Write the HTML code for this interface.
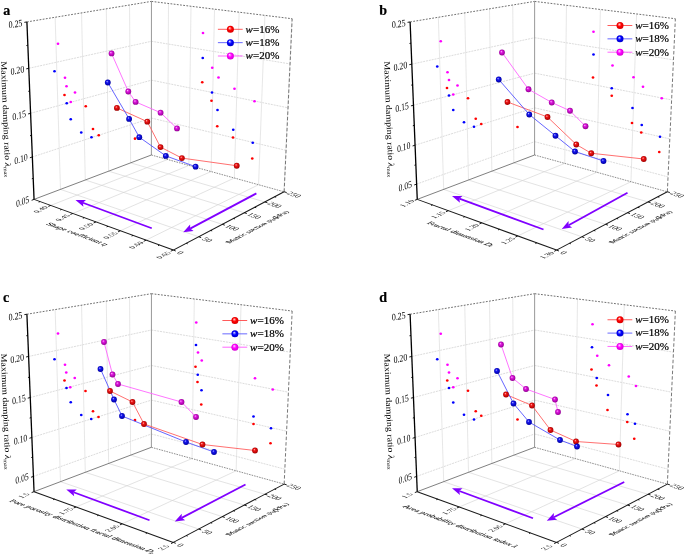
<!DOCTYPE html>
<html><head><meta charset="utf-8"><style>
html,body{margin:0;padding:0;background:#fff;}
svg{display:block;will-change:transform;filter:blur(0.35px);}
text{font-family:"Liberation Serif",serif;fill:#000;}
.b{stroke:#000;stroke-width:0.22px;}
.t{fill:#111;}
</style></head><body>
<svg width="685" height="556" viewBox="0 0 685 556">
<defs>
<radialGradient id="gr" cx="0.5" cy="0.5" fx="0.36" fy="0.32" r="0.6"><stop offset="0" stop-color="#ffc0c0"/><stop offset="0.3" stop-color="#f01818"/><stop offset="0.8" stop-color="#b00000"/><stop offset="1" stop-color="#700000"/></radialGradient>
<radialGradient id="gb" cx="0.5" cy="0.5" fx="0.36" fy="0.32" r="0.6"><stop offset="0" stop-color="#c0c0ff"/><stop offset="0.3" stop-color="#1818f0"/><stop offset="0.8" stop-color="#0000b0"/><stop offset="1" stop-color="#000070"/></radialGradient>
<radialGradient id="gm" cx="0.5" cy="0.5" fx="0.36" fy="0.32" r="0.6"><stop offset="0" stop-color="#ffc0ff"/><stop offset="0.3" stop-color="#e018e0"/><stop offset="0.8" stop-color="#a000a0"/><stop offset="1" stop-color="#680068"/></radialGradient>
<radialGradient id="lr" cx="0.5" cy="0.5" fx="0.38" fy="0.3" r="0.55"><stop offset="0" stop-color="#ffffff"/><stop offset="0.22" stop-color="#ff7070"/><stop offset="0.5" stop-color="#ff0000"/><stop offset="1" stop-color="#d00000"/></radialGradient>
<radialGradient id="lb" cx="0.5" cy="0.5" fx="0.38" fy="0.3" r="0.55"><stop offset="0" stop-color="#ffffff"/><stop offset="0.22" stop-color="#7070ff"/><stop offset="0.5" stop-color="#0000ff"/><stop offset="1" stop-color="#0000c0"/></radialGradient>
<radialGradient id="lm" cx="0.5" cy="0.5" fx="0.38" fy="0.3" r="0.55"><stop offset="0" stop-color="#ffffff"/><stop offset="0.22" stop-color="#ff70ff"/><stop offset="0.5" stop-color="#ff00ff"/><stop offset="1" stop-color="#d000d0"/></radialGradient>
</defs>
<rect width="685" height="556" fill="#fff"/>
<line x1="32.35" y1="156.97" x2="151.40" y2="118.06" stroke="#cdcdcd" stroke-width="0.7" stroke-dasharray="2 0.9"/>
<line x1="151.40" y1="118.06" x2="286.07" y2="150.40" stroke="#cdcdcd" stroke-width="0.7" stroke-dasharray="2 0.9"/>
<line x1="30.59" y1="113.30" x2="151.41" y2="80.17" stroke="#cdcdcd" stroke-width="0.7" stroke-dasharray="2 0.9"/>
<line x1="151.41" y1="80.17" x2="288.05" y2="107.79" stroke="#cdcdcd" stroke-width="0.7" stroke-dasharray="2 0.9"/>
<line x1="28.78" y1="68.30" x2="151.43" y2="41.29" stroke="#cdcdcd" stroke-width="0.7" stroke-dasharray="2 0.9"/>
<line x1="151.43" y1="41.29" x2="290.08" y2="63.92" stroke="#cdcdcd" stroke-width="0.7" stroke-dasharray="2 0.9"/>
<line x1="60.49" y1="189.38" x2="55.15" y2="17.27" stroke="#dcdcdc" stroke-width="0.7"/>
<line x1="60.49" y1="189.38" x2="198.71" y2="236.75" stroke="#d4d4d4" stroke-width="0.65"/>
<line x1="85.29" y1="180.00" x2="81.56" y2="12.91" stroke="#dcdcdc" stroke-width="0.7"/>
<line x1="85.29" y1="180.00" x2="222.32" y2="224.33" stroke="#d4d4d4" stroke-width="0.65"/>
<line x1="108.63" y1="171.18" x2="106.31" y2="8.83" stroke="#dcdcdc" stroke-width="0.7"/>
<line x1="108.63" y1="171.18" x2="244.33" y2="212.76" stroke="#d4d4d4" stroke-width="0.65"/>
<line x1="130.62" y1="162.86" x2="129.56" y2="5.00" stroke="#dcdcdc" stroke-width="0.7"/>
<line x1="130.62" y1="162.86" x2="264.89" y2="201.94" stroke="#d4d4d4" stroke-width="0.65"/>
<line x1="167.58" y1="159.50" x2="168.50" y2="3.50" stroke="#dcdcdc" stroke-width="0.7"/>
<line x1="50.73" y1="205.44" x2="167.58" y2="159.50" stroke="#d4d4d4" stroke-width="0.65"/>
<line x1="188.89" y1="165.41" x2="191.00" y2="6.27" stroke="#dcdcdc" stroke-width="0.7"/>
<line x1="72.79" y1="213.48" x2="188.89" y2="165.41" stroke="#d4d4d4" stroke-width="0.65"/>
<line x1="211.12" y1="171.57" x2="214.52" y2="9.17" stroke="#dcdcdc" stroke-width="0.7"/>
<line x1="95.97" y1="221.93" x2="211.12" y2="171.57" stroke="#d4d4d4" stroke-width="0.65"/>
<line x1="234.33" y1="178.00" x2="239.13" y2="12.20" stroke="#dcdcdc" stroke-width="0.7"/>
<line x1="120.34" y1="230.81" x2="234.33" y2="178.00" stroke="#d4d4d4" stroke-width="0.65"/>
<line x1="258.57" y1="184.72" x2="264.90" y2="15.37" stroke="#dcdcdc" stroke-width="0.7"/>
<line x1="146.01" y1="240.16" x2="258.57" y2="184.72" stroke="#d4d4d4" stroke-width="0.65"/>
<line x1="283.93" y1="191.74" x2="291.93" y2="18.71" stroke="#dcdcdc" stroke-width="0.7"/>
<line x1="173.08" y1="250.02" x2="283.93" y2="191.74" stroke="#d4d4d4" stroke-width="0.65"/>
<line x1="26.91" y1="21.92" x2="151.44" y2="1.39" stroke="#555555" stroke-width="0.85" stroke-dasharray="1.8 1.4"/>
<line x1="151.44" y1="1.39" x2="292.17" y2="18.74" stroke="#555555" stroke-width="0.85" stroke-dasharray="1.8 1.4"/>
<line x1="284.15" y1="191.81" x2="292.17" y2="18.74" stroke="#606060" stroke-width="0.85" stroke-dasharray="3.5 2"/>
<line x1="151.38" y1="155.01" x2="151.44" y2="1.39" stroke="#999999" stroke-width="1.0"/>
<line x1="34.06" y1="199.37" x2="151.38" y2="155.01" stroke="#606060" stroke-width="0.8"/>
<line x1="151.38" y1="155.01" x2="284.15" y2="191.81" stroke="#6a6a6a" stroke-width="0.75" stroke-dasharray="1.6 1"/>
<line x1="416.65" y1="184.09" x2="534.59" y2="141.68" stroke="#cdcdcd" stroke-width="0.7" stroke-dasharray="2 0.9"/>
<line x1="534.59" y1="141.68" x2="668.04" y2="176.88" stroke="#cdcdcd" stroke-width="0.7" stroke-dasharray="2 0.9"/>
<line x1="415.08" y1="145.18" x2="534.60" y2="107.82" stroke="#cdcdcd" stroke-width="0.7" stroke-dasharray="2 0.9"/>
<line x1="534.60" y1="107.82" x2="669.80" y2="138.90" stroke="#cdcdcd" stroke-width="0.7" stroke-dasharray="2 0.9"/>
<line x1="413.47" y1="105.22" x2="534.61" y2="73.17" stroke="#cdcdcd" stroke-width="0.7" stroke-dasharray="2 0.9"/>
<line x1="534.61" y1="73.17" x2="671.61" y2="99.91" stroke="#cdcdcd" stroke-width="0.7" stroke-dasharray="2 0.9"/>
<line x1="411.81" y1="64.14" x2="534.63" y2="37.71" stroke="#cdcdcd" stroke-width="0.7" stroke-dasharray="2 0.9"/>
<line x1="534.63" y1="37.71" x2="673.47" y2="59.87" stroke="#cdcdcd" stroke-width="0.7" stroke-dasharray="2 0.9"/>
<line x1="443.69" y1="189.38" x2="438.35" y2="17.27" stroke="#dcdcdc" stroke-width="0.7"/>
<line x1="443.69" y1="189.38" x2="581.91" y2="236.75" stroke="#d4d4d4" stroke-width="0.65"/>
<line x1="468.49" y1="180.00" x2="464.76" y2="12.91" stroke="#dcdcdc" stroke-width="0.7"/>
<line x1="468.49" y1="180.00" x2="605.52" y2="224.33" stroke="#d4d4d4" stroke-width="0.65"/>
<line x1="491.83" y1="171.18" x2="489.51" y2="8.83" stroke="#dcdcdc" stroke-width="0.7"/>
<line x1="491.83" y1="171.18" x2="627.53" y2="212.76" stroke="#d4d4d4" stroke-width="0.65"/>
<line x1="513.82" y1="162.86" x2="512.76" y2="5.00" stroke="#dcdcdc" stroke-width="0.7"/>
<line x1="513.82" y1="162.86" x2="648.09" y2="201.94" stroke="#d4d4d4" stroke-width="0.65"/>
<line x1="564.76" y1="163.38" x2="566.46" y2="5.31" stroke="#dcdcdc" stroke-width="0.7"/>
<line x1="448.39" y1="210.71" x2="564.76" y2="163.38" stroke="#d4d4d4" stroke-width="0.65"/>
<line x1="596.83" y1="172.26" x2="600.38" y2="9.49" stroke="#dcdcdc" stroke-width="0.7"/>
<line x1="481.79" y1="222.88" x2="596.83" y2="172.26" stroke="#d4d4d4" stroke-width="0.65"/>
<line x1="630.96" y1="181.72" x2="636.60" y2="13.96" stroke="#dcdcdc" stroke-width="0.7"/>
<line x1="517.74" y1="235.98" x2="630.96" y2="181.72" stroke="#d4d4d4" stroke-width="0.65"/>
<line x1="410.11" y1="21.92" x2="534.64" y2="1.39" stroke="#555555" stroke-width="0.85" stroke-dasharray="1.8 1.4"/>
<line x1="534.64" y1="1.39" x2="675.37" y2="18.74" stroke="#555555" stroke-width="0.85" stroke-dasharray="1.8 1.4"/>
<line x1="667.35" y1="191.81" x2="675.37" y2="18.74" stroke="#606060" stroke-width="0.85" stroke-dasharray="3.5 2"/>
<line x1="534.58" y1="155.01" x2="534.64" y2="1.39" stroke="#999999" stroke-width="1.0"/>
<line x1="417.26" y1="199.37" x2="534.58" y2="155.01" stroke="#606060" stroke-width="0.8"/>
<line x1="534.58" y1="155.01" x2="667.35" y2="191.81" stroke="#6a6a6a" stroke-width="0.75" stroke-dasharray="1.6 1"/>
<line x1="33.45" y1="476.39" x2="151.39" y2="433.98" stroke="#cdcdcd" stroke-width="0.7" stroke-dasharray="2 0.9"/>
<line x1="151.39" y1="433.98" x2="284.84" y2="469.18" stroke="#cdcdcd" stroke-width="0.7" stroke-dasharray="2 0.9"/>
<line x1="31.88" y1="437.48" x2="151.40" y2="400.12" stroke="#cdcdcd" stroke-width="0.7" stroke-dasharray="2 0.9"/>
<line x1="151.40" y1="400.12" x2="286.60" y2="431.20" stroke="#cdcdcd" stroke-width="0.7" stroke-dasharray="2 0.9"/>
<line x1="30.27" y1="397.52" x2="151.41" y2="365.47" stroke="#cdcdcd" stroke-width="0.7" stroke-dasharray="2 0.9"/>
<line x1="151.41" y1="365.47" x2="288.41" y2="392.21" stroke="#cdcdcd" stroke-width="0.7" stroke-dasharray="2 0.9"/>
<line x1="28.61" y1="356.44" x2="151.43" y2="330.01" stroke="#cdcdcd" stroke-width="0.7" stroke-dasharray="2 0.9"/>
<line x1="151.43" y1="330.01" x2="290.27" y2="352.17" stroke="#cdcdcd" stroke-width="0.7" stroke-dasharray="2 0.9"/>
<line x1="60.49" y1="481.68" x2="55.15" y2="309.57" stroke="#dcdcdc" stroke-width="0.7"/>
<line x1="60.49" y1="481.68" x2="198.71" y2="529.05" stroke="#d4d4d4" stroke-width="0.65"/>
<line x1="85.29" y1="472.30" x2="81.56" y2="305.21" stroke="#dcdcdc" stroke-width="0.7"/>
<line x1="85.29" y1="472.30" x2="222.32" y2="516.63" stroke="#d4d4d4" stroke-width="0.65"/>
<line x1="108.63" y1="463.48" x2="106.31" y2="301.13" stroke="#dcdcdc" stroke-width="0.7"/>
<line x1="108.63" y1="463.48" x2="244.33" y2="505.06" stroke="#d4d4d4" stroke-width="0.65"/>
<line x1="130.62" y1="455.16" x2="129.56" y2="297.30" stroke="#dcdcdc" stroke-width="0.7"/>
<line x1="130.62" y1="455.16" x2="264.89" y2="494.24" stroke="#d4d4d4" stroke-width="0.65"/>
<line x1="192.03" y1="458.58" x2="194.32" y2="298.98" stroke="#dcdcdc" stroke-width="0.7"/>
<line x1="76.06" y1="506.97" x2="192.03" y2="458.58" stroke="#d4d4d4" stroke-width="0.65"/>
<line x1="236.14" y1="470.80" x2="241.05" y2="304.74" stroke="#dcdcdc" stroke-width="0.7"/>
<line x1="122.26" y1="523.80" x2="236.14" y2="470.80" stroke="#d4d4d4" stroke-width="0.65"/>
<line x1="26.91" y1="314.22" x2="151.44" y2="293.69" stroke="#555555" stroke-width="0.85" stroke-dasharray="1.8 1.4"/>
<line x1="151.44" y1="293.69" x2="292.17" y2="311.04" stroke="#555555" stroke-width="0.85" stroke-dasharray="1.8 1.4"/>
<line x1="284.15" y1="484.11" x2="292.17" y2="311.04" stroke="#606060" stroke-width="0.85" stroke-dasharray="3.5 2"/>
<line x1="151.38" y1="447.31" x2="151.44" y2="293.69" stroke="#999999" stroke-width="1.0"/>
<line x1="34.06" y1="491.67" x2="151.38" y2="447.31" stroke="#606060" stroke-width="0.8"/>
<line x1="151.38" y1="447.31" x2="284.15" y2="484.11" stroke="#6a6a6a" stroke-width="0.75" stroke-dasharray="1.6 1"/>
<line x1="416.65" y1="476.39" x2="534.59" y2="433.98" stroke="#cdcdcd" stroke-width="0.7" stroke-dasharray="2 0.9"/>
<line x1="534.59" y1="433.98" x2="668.04" y2="469.18" stroke="#cdcdcd" stroke-width="0.7" stroke-dasharray="2 0.9"/>
<line x1="415.08" y1="437.48" x2="534.60" y2="400.12" stroke="#cdcdcd" stroke-width="0.7" stroke-dasharray="2 0.9"/>
<line x1="534.60" y1="400.12" x2="669.80" y2="431.20" stroke="#cdcdcd" stroke-width="0.7" stroke-dasharray="2 0.9"/>
<line x1="413.47" y1="397.52" x2="534.61" y2="365.47" stroke="#cdcdcd" stroke-width="0.7" stroke-dasharray="2 0.9"/>
<line x1="534.61" y1="365.47" x2="671.61" y2="392.21" stroke="#cdcdcd" stroke-width="0.7" stroke-dasharray="2 0.9"/>
<line x1="411.81" y1="356.44" x2="534.63" y2="330.01" stroke="#cdcdcd" stroke-width="0.7" stroke-dasharray="2 0.9"/>
<line x1="534.63" y1="330.01" x2="673.47" y2="352.17" stroke="#cdcdcd" stroke-width="0.7" stroke-dasharray="2 0.9"/>
<line x1="443.69" y1="481.68" x2="438.35" y2="309.57" stroke="#dcdcdc" stroke-width="0.7"/>
<line x1="443.69" y1="481.68" x2="581.91" y2="529.05" stroke="#d4d4d4" stroke-width="0.65"/>
<line x1="468.49" y1="472.30" x2="464.76" y2="305.21" stroke="#dcdcdc" stroke-width="0.7"/>
<line x1="468.49" y1="472.30" x2="605.52" y2="516.63" stroke="#d4d4d4" stroke-width="0.65"/>
<line x1="491.83" y1="463.48" x2="489.51" y2="301.13" stroke="#dcdcdc" stroke-width="0.7"/>
<line x1="491.83" y1="463.48" x2="627.53" y2="505.06" stroke="#d4d4d4" stroke-width="0.65"/>
<line x1="513.82" y1="455.16" x2="512.76" y2="297.30" stroke="#dcdcdc" stroke-width="0.7"/>
<line x1="513.82" y1="455.16" x2="648.09" y2="494.24" stroke="#d4d4d4" stroke-width="0.65"/>
<line x1="575.23" y1="458.58" x2="577.52" y2="298.98" stroke="#dcdcdc" stroke-width="0.7"/>
<line x1="459.26" y1="506.97" x2="575.23" y2="458.58" stroke="#d4d4d4" stroke-width="0.65"/>
<line x1="619.34" y1="470.80" x2="624.25" y2="304.74" stroke="#dcdcdc" stroke-width="0.7"/>
<line x1="505.46" y1="523.80" x2="619.34" y2="470.80" stroke="#d4d4d4" stroke-width="0.65"/>
<line x1="410.11" y1="314.22" x2="534.64" y2="293.69" stroke="#555555" stroke-width="0.85" stroke-dasharray="1.8 1.4"/>
<line x1="534.64" y1="293.69" x2="675.37" y2="311.04" stroke="#555555" stroke-width="0.85" stroke-dasharray="1.8 1.4"/>
<line x1="667.35" y1="484.11" x2="675.37" y2="311.04" stroke="#606060" stroke-width="0.85" stroke-dasharray="3.5 2"/>
<line x1="534.58" y1="447.31" x2="534.64" y2="293.69" stroke="#999999" stroke-width="1.0"/>
<line x1="417.26" y1="491.67" x2="534.58" y2="447.31" stroke="#606060" stroke-width="0.8"/>
<line x1="534.58" y1="447.31" x2="667.35" y2="484.11" stroke="#6a6a6a" stroke-width="0.75" stroke-dasharray="1.6 1"/>
<circle cx="58" cy="43.75" r="1.35" fill="#ff00ff"/>
<circle cx="65" cy="77.75" r="1.35" fill="#ff00ff"/>
<circle cx="66.5" cy="86.25" r="1.35" fill="#ff00ff"/>
<circle cx="75" cy="92.5" r="1.35" fill="#ff00ff"/>
<circle cx="70.75" cy="102" r="1.35" fill="#ff00ff"/>
<circle cx="203" cy="33" r="1.35" fill="#ff00ff"/>
<circle cx="212.25" cy="67.75" r="1.35" fill="#ff00ff"/>
<circle cx="218.5" cy="77.5" r="1.35" fill="#ff00ff"/>
<circle cx="234.5" cy="88.75" r="1.35" fill="#ff00ff"/>
<circle cx="254.5" cy="101.25" r="1.35" fill="#ff00ff"/>
<circle cx="54.5" cy="71.25" r="1.35" fill="#0000ff"/>
<circle cx="66.75" cy="103.25" r="1.35" fill="#0000ff"/>
<circle cx="70.75" cy="119.25" r="1.35" fill="#0000ff"/>
<circle cx="81.25" cy="132.5" r="1.35" fill="#0000ff"/>
<circle cx="91.5" cy="137.25" r="1.35" fill="#0000ff"/>
<circle cx="202.75" cy="58" r="1.35" fill="#0000ff"/>
<circle cx="212" cy="92.5" r="1.35" fill="#0000ff"/>
<circle cx="217.5" cy="110" r="1.35" fill="#0000ff"/>
<circle cx="233.25" cy="129.75" r="1.35" fill="#0000ff"/>
<circle cx="252.75" cy="142.75" r="1.35" fill="#0000ff"/>
<circle cx="64.5" cy="95" r="1.35" fill="#ff0000"/>
<circle cx="85.75" cy="106.25" r="1.35" fill="#ff0000"/>
<circle cx="93" cy="129" r="1.35" fill="#ff0000"/>
<circle cx="98.75" cy="135.25" r="1.35" fill="#ff0000"/>
<circle cx="135" cy="138.7" r="1.35" fill="#ff0000"/>
<circle cx="202.25" cy="82.25" r="1.35" fill="#ff0000"/>
<circle cx="211.5" cy="100.75" r="1.35" fill="#ff0000"/>
<circle cx="217.25" cy="126.25" r="1.35" fill="#ff0000"/>
<circle cx="233" cy="137.5" r="1.35" fill="#ff0000"/>
<circle cx="252.25" cy="158.5" r="1.35" fill="#ff0000"/>
<circle cx="440.75" cy="41.25" r="1.35" fill="#ff00ff"/>
<circle cx="447.5" cy="72.25" r="1.35" fill="#ff00ff"/>
<circle cx="449" cy="80" r="1.35" fill="#ff00ff"/>
<circle cx="457.5" cy="85.5" r="1.35" fill="#ff00ff"/>
<circle cx="453.25" cy="94.5" r="1.35" fill="#ff00ff"/>
<circle cx="593.5" cy="31.75" r="1.35" fill="#ff00ff"/>
<circle cx="612.5" cy="65.5" r="1.35" fill="#ff00ff"/>
<circle cx="633.5" cy="77.25" r="1.35" fill="#ff00ff"/>
<circle cx="643" cy="86.75" r="1.35" fill="#ff00ff"/>
<circle cx="661.75" cy="98.25" r="1.35" fill="#ff00ff"/>
<circle cx="437.25" cy="66.5" r="1.35" fill="#0000ff"/>
<circle cx="449" cy="95.5" r="1.35" fill="#0000ff"/>
<circle cx="453.25" cy="110" r="1.35" fill="#0000ff"/>
<circle cx="464" cy="122.25" r="1.35" fill="#0000ff"/>
<circle cx="474" cy="126.75" r="1.35" fill="#0000ff"/>
<circle cx="593.5" cy="54.5" r="1.35" fill="#0000ff"/>
<circle cx="611.75" cy="88.25" r="1.35" fill="#0000ff"/>
<circle cx="632.5" cy="108" r="1.35" fill="#0000ff"/>
<circle cx="641.75" cy="125" r="1.35" fill="#0000ff"/>
<circle cx="660" cy="136.75" r="1.35" fill="#0000ff"/>
<circle cx="447" cy="88" r="1.35" fill="#ff0000"/>
<circle cx="468" cy="98.25" r="1.35" fill="#ff0000"/>
<circle cx="475.75" cy="118.75" r="1.35" fill="#ff0000"/>
<circle cx="481.25" cy="124" r="1.35" fill="#ff0000"/>
<circle cx="517.5" cy="127" r="1.35" fill="#ff0000"/>
<circle cx="593" cy="77.5" r="1.35" fill="#ff0000"/>
<circle cx="611.75" cy="95.75" r="1.35" fill="#ff0000"/>
<circle cx="632" cy="123" r="1.35" fill="#ff0000"/>
<circle cx="641.25" cy="132.5" r="1.35" fill="#ff0000"/>
<circle cx="659.25" cy="152" r="1.35" fill="#ff0000"/>
<circle cx="58" cy="333.5" r="1.35" fill="#ff00ff"/>
<circle cx="65" cy="364.75" r="1.35" fill="#ff00ff"/>
<circle cx="66.25" cy="372.5" r="1.35" fill="#ff00ff"/>
<circle cx="74.75" cy="378" r="1.35" fill="#ff00ff"/>
<circle cx="70.25" cy="387.25" r="1.35" fill="#ff00ff"/>
<circle cx="196.25" cy="322.5" r="1.35" fill="#ff00ff"/>
<circle cx="198" cy="352.5" r="1.35" fill="#ff00ff"/>
<circle cx="201.75" cy="360.5" r="1.35" fill="#ff00ff"/>
<circle cx="255" cy="378.25" r="1.35" fill="#ff00ff"/>
<circle cx="272.75" cy="389.5" r="1.35" fill="#ff00ff"/>
<circle cx="54.5" cy="359.25" r="1.35" fill="#0000ff"/>
<circle cx="66.5" cy="388" r="1.35" fill="#0000ff"/>
<circle cx="70.75" cy="402.25" r="1.35" fill="#0000ff"/>
<circle cx="81.25" cy="415" r="1.35" fill="#0000ff"/>
<circle cx="91.25" cy="419" r="1.35" fill="#0000ff"/>
<circle cx="196" cy="345" r="1.35" fill="#0000ff"/>
<circle cx="197.75" cy="374.75" r="1.35" fill="#0000ff"/>
<circle cx="201.5" cy="390.25" r="1.35" fill="#0000ff"/>
<circle cx="253.5" cy="416.5" r="1.35" fill="#0000ff"/>
<circle cx="271" cy="428.25" r="1.35" fill="#0000ff"/>
<circle cx="64.5" cy="380.5" r="1.35" fill="#ff0000"/>
<circle cx="85.5" cy="391" r="1.35" fill="#ff0000"/>
<circle cx="93" cy="411.25" r="1.35" fill="#ff0000"/>
<circle cx="98.5" cy="417" r="1.35" fill="#ff0000"/>
<circle cx="135" cy="420" r="1.35" fill="#ff0000"/>
<circle cx="195.5" cy="366.75" r="1.35" fill="#ff0000"/>
<circle cx="197.5" cy="382" r="1.35" fill="#ff0000"/>
<circle cx="201.25" cy="404.5" r="1.35" fill="#ff0000"/>
<circle cx="253.5" cy="424" r="1.35" fill="#ff0000"/>
<circle cx="270.5" cy="443.25" r="1.35" fill="#ff0000"/>
<circle cx="440.75" cy="333.75" r="1.35" fill="#ff00ff"/>
<circle cx="447.5" cy="364.75" r="1.35" fill="#ff00ff"/>
<circle cx="449" cy="372.5" r="1.35" fill="#ff00ff"/>
<circle cx="457.5" cy="378.25" r="1.35" fill="#ff00ff"/>
<circle cx="453.25" cy="387.25" r="1.35" fill="#ff00ff"/>
<circle cx="592.5" cy="324.25" r="1.35" fill="#ff00ff"/>
<circle cx="597.25" cy="355.75" r="1.35" fill="#ff00ff"/>
<circle cx="609" cy="365.25" r="1.35" fill="#ff00ff"/>
<circle cx="628.75" cy="376.5" r="1.35" fill="#ff00ff"/>
<circle cx="636" cy="386" r="1.35" fill="#ff00ff"/>
<circle cx="437.25" cy="359.25" r="1.35" fill="#0000ff"/>
<circle cx="449" cy="388" r="1.35" fill="#0000ff"/>
<circle cx="453.25" cy="402.5" r="1.35" fill="#0000ff"/>
<circle cx="464" cy="414.75" r="1.35" fill="#0000ff"/>
<circle cx="474" cy="419.5" r="1.35" fill="#0000ff"/>
<circle cx="592" cy="347.25" r="1.35" fill="#0000ff"/>
<circle cx="596.75" cy="378" r="1.35" fill="#0000ff"/>
<circle cx="608" cy="395" r="1.35" fill="#0000ff"/>
<circle cx="627.5" cy="414.25" r="1.35" fill="#0000ff"/>
<circle cx="635" cy="423.75" r="1.35" fill="#0000ff"/>
<circle cx="447.25" cy="380.5" r="1.35" fill="#ff0000"/>
<circle cx="468" cy="390.75" r="1.35" fill="#ff0000"/>
<circle cx="475.75" cy="411.25" r="1.35" fill="#ff0000"/>
<circle cx="481.25" cy="415.75" r="1.35" fill="#ff0000"/>
<circle cx="517.5" cy="419.5" r="1.35" fill="#ff0000"/>
<circle cx="591.5" cy="369.5" r="1.35" fill="#ff0000"/>
<circle cx="596.5" cy="385.5" r="1.35" fill="#ff0000"/>
<circle cx="607.5" cy="410" r="1.35" fill="#ff0000"/>
<circle cx="627.25" cy="422" r="1.35" fill="#ff0000"/>
<circle cx="634.25" cy="438.75" r="1.35" fill="#ff0000"/>
<line x1="34.06" y1="199.37" x2="26.91" y2="21.92" stroke="#000" stroke-width="1.3"/>
<line x1="34.06" y1="199.37" x2="173.32" y2="250.11" stroke="#1a1a1a" stroke-width="1.05"/>
<line x1="173.32" y1="250.11" x2="284.15" y2="191.81" stroke="#1a1a1a" stroke-width="1.05"/>
<line x1="34.06" y1="199.37" x2="31.63" y2="200.29" stroke="#000" stroke-width="0.9"/>
<line x1="32.35" y1="156.97" x2="29.88" y2="157.77" stroke="#000" stroke-width="0.9"/>
<line x1="30.59" y1="113.30" x2="28.09" y2="113.98" stroke="#000" stroke-width="0.9"/>
<line x1="28.78" y1="68.30" x2="26.24" y2="68.86" stroke="#000" stroke-width="0.9"/>
<line x1="26.91" y1="21.92" x2="24.35" y2="22.35" stroke="#000" stroke-width="0.9"/>
<line x1="33.21" y1="178.32" x2="31.80" y2="178.82" stroke="#000" stroke-width="0.9"/>
<line x1="31.48" y1="135.29" x2="30.04" y2="135.72" stroke="#000" stroke-width="0.9"/>
<line x1="29.69" y1="90.97" x2="28.24" y2="91.33" stroke="#000" stroke-width="0.9"/>
<line x1="27.85" y1="45.29" x2="26.38" y2="45.57" stroke="#000" stroke-width="0.9"/>
<text transform="matrix(0.7483 -0.2829 0.0403 0.9992 22.66 201.27)" font-size="10" text-anchor="middle" y="3.40">0.05</text>
<text transform="matrix(0.7604 -0.2485 0.0403 0.9992 20.95 158.87)" font-size="10" text-anchor="middle" y="3.40">0.10</text>
<text transform="matrix(0.7715 -0.2116 0.0403 0.9992 19.19 115.20)" font-size="10" text-anchor="middle" y="3.40">0.15</text>
<text transform="matrix(0.7813 -0.1721 0.0403 0.9992 17.38 70.20)" font-size="10" text-anchor="middle" y="3.40">0.20</text>
<text transform="matrix(0.7893 -0.1301 0.0403 0.9992 15.51 23.82)" font-size="10" text-anchor="middle" y="3.40">0.25</text>
<line x1="50.73" y1="205.44" x2="48.31" y2="206.39" stroke="#000" stroke-width="0.9"/>
<line x1="72.79" y1="213.48" x2="70.39" y2="214.48" stroke="#000" stroke-width="0.9"/>
<line x1="95.97" y1="221.93" x2="93.59" y2="222.97" stroke="#000" stroke-width="0.9"/>
<line x1="120.34" y1="230.81" x2="117.99" y2="231.90" stroke="#000" stroke-width="0.9"/>
<line x1="146.01" y1="240.16" x2="143.68" y2="241.31" stroke="#000" stroke-width="0.9"/>
<line x1="173.08" y1="250.02" x2="170.78" y2="251.23" stroke="#000" stroke-width="0.9"/>
<line x1="40.09" y1="201.56" x2="38.68" y2="202.10" stroke="#000" stroke-width="0.9"/>
<line x1="61.62" y1="209.41" x2="60.23" y2="209.97" stroke="#000" stroke-width="0.9"/>
<line x1="84.24" y1="217.65" x2="82.86" y2="218.24" stroke="#000" stroke-width="0.9"/>
<line x1="108.00" y1="226.31" x2="106.63" y2="226.92" stroke="#000" stroke-width="0.9"/>
<line x1="133.01" y1="235.42" x2="131.66" y2="236.07" stroke="#000" stroke-width="0.9"/>
<line x1="159.37" y1="245.02" x2="158.03" y2="245.70" stroke="#000" stroke-width="0.9"/>
<text transform="matrix(0.8850 -0.4656 0.9396 0.3423 40.49 209.47)" font-size="7.4" text-anchor="middle" y="2.52" class="t">0.40</text>
<text transform="matrix(0.8850 -0.4656 0.9396 0.3423 62.63 217.69)" font-size="7.4" text-anchor="middle" y="2.52" class="t">0.45</text>
<text transform="matrix(0.8850 -0.4656 0.9396 0.3423 85.89 226.33)" font-size="7.4" text-anchor="middle" y="2.52" class="t">0.50</text>
<text transform="matrix(0.8850 -0.4656 0.9396 0.3423 110.36 235.43)" font-size="7.4" text-anchor="middle" y="2.52" class="t">0.55</text>
<text transform="matrix(0.8850 -0.4656 0.9396 0.3423 136.15 245.02)" font-size="7.4" text-anchor="middle" y="2.52" class="t">0.60</text>
<text transform="matrix(0.8850 -0.4656 0.9396 0.3423 163.35 255.14)" font-size="7.4" text-anchor="middle" y="2.52" class="t">0.65</text>
<line x1="173.32" y1="250.11" x2="175.77" y2="251.00" stroke="#000" stroke-width="0.9"/>
<line x1="198.71" y1="236.75" x2="201.17" y2="237.60" stroke="#000" stroke-width="0.9"/>
<line x1="222.32" y1="224.33" x2="224.79" y2="225.13" stroke="#000" stroke-width="0.9"/>
<line x1="244.33" y1="212.76" x2="246.81" y2="213.52" stroke="#000" stroke-width="0.9"/>
<line x1="264.89" y1="201.94" x2="267.39" y2="202.66" stroke="#000" stroke-width="0.9"/>
<line x1="284.15" y1="191.81" x2="286.66" y2="192.50" stroke="#000" stroke-width="0.9"/>
<line x1="186.25" y1="243.31" x2="187.67" y2="243.81" stroke="#000" stroke-width="0.9"/>
<line x1="210.73" y1="230.43" x2="212.15" y2="230.91" stroke="#000" stroke-width="0.9"/>
<line x1="233.51" y1="218.45" x2="234.94" y2="218.90" stroke="#000" stroke-width="0.9"/>
<line x1="254.78" y1="207.26" x2="256.22" y2="207.69" stroke="#000" stroke-width="0.9"/>
<line x1="274.68" y1="196.79" x2="276.12" y2="197.20" stroke="#000" stroke-width="0.9"/>
<text transform="matrix(0.9396 0.3423 -0.8850 0.4656 180.65 252.78)" font-size="8" text-anchor="middle" y="2.72" class="t">0</text>
<text transform="matrix(0.9396 0.3423 -0.8850 0.4656 207.32 239.70)" font-size="8" text-anchor="middle" y="2.72" class="t">50</text>
<text transform="matrix(0.9396 0.3423 -0.8850 0.4656 232.21 227.54)" font-size="8" text-anchor="middle" y="2.72" class="t">100</text>
<text transform="matrix(0.9396 0.3423 -0.8850 0.4656 254.27 215.80)" font-size="8" text-anchor="middle" y="2.72" class="t">150</text>
<text transform="matrix(0.9396 0.3423 -0.8850 0.4656 274.88 204.84)" font-size="8" text-anchor="middle" y="2.72" class="t">200</text>
<text transform="matrix(0.9396 0.3423 -0.8850 0.4656 294.17 194.58)" font-size="8" text-anchor="middle" y="2.72" class="t">250</text>
<line x1="417.26" y1="199.37" x2="410.11" y2="21.92" stroke="#000" stroke-width="1.3"/>
<line x1="417.26" y1="199.37" x2="556.52" y2="250.11" stroke="#1a1a1a" stroke-width="1.05"/>
<line x1="556.52" y1="250.11" x2="667.35" y2="191.81" stroke="#1a1a1a" stroke-width="1.05"/>
<line x1="416.65" y1="184.09" x2="414.20" y2="184.97" stroke="#000" stroke-width="0.9"/>
<line x1="415.08" y1="145.18" x2="412.60" y2="145.96" stroke="#000" stroke-width="0.9"/>
<line x1="413.47" y1="105.22" x2="410.95" y2="105.88" stroke="#000" stroke-width="0.9"/>
<line x1="411.81" y1="64.14" x2="409.27" y2="64.69" stroke="#000" stroke-width="0.9"/>
<line x1="410.11" y1="21.92" x2="407.55" y2="22.35" stroke="#000" stroke-width="0.9"/>
<line x1="415.87" y1="164.77" x2="414.45" y2="165.25" stroke="#000" stroke-width="0.9"/>
<line x1="414.28" y1="125.33" x2="412.84" y2="125.75" stroke="#000" stroke-width="0.9"/>
<line x1="412.65" y1="84.82" x2="411.19" y2="85.17" stroke="#000" stroke-width="0.9"/>
<line x1="410.97" y1="43.18" x2="409.49" y2="43.46" stroke="#000" stroke-width="0.9"/>
<text transform="matrix(0.7528 -0.2707 0.0403 0.9992 405.25 185.99)" font-size="10" text-anchor="middle" y="3.40">0.05</text>
<text transform="matrix(0.7636 -0.2387 0.0403 0.9992 403.68 147.08)" font-size="10" text-anchor="middle" y="3.40">0.10</text>
<text transform="matrix(0.7734 -0.2046 0.0403 0.9992 402.07 107.12)" font-size="10" text-anchor="middle" y="3.40">0.15</text>
<text transform="matrix(0.7821 -0.1684 0.0403 0.9992 400.41 66.04)" font-size="10" text-anchor="middle" y="3.40">0.20</text>
<text transform="matrix(0.7893 -0.1301 0.0403 0.9992 398.71 23.82)" font-size="10" text-anchor="middle" y="3.40">0.25</text>
<line x1="417.26" y1="199.37" x2="414.83" y2="200.29" stroke="#000" stroke-width="0.9"/>
<line x1="448.39" y1="210.71" x2="445.98" y2="211.69" stroke="#000" stroke-width="0.9"/>
<line x1="481.79" y1="222.88" x2="479.41" y2="223.93" stroke="#000" stroke-width="0.9"/>
<line x1="517.74" y1="235.98" x2="515.39" y2="237.10" stroke="#000" stroke-width="0.9"/>
<line x1="556.52" y1="250.11" x2="554.22" y2="251.32" stroke="#000" stroke-width="0.9"/>
<line x1="432.55" y1="204.94" x2="431.16" y2="205.49" stroke="#000" stroke-width="0.9"/>
<line x1="464.79" y1="216.69" x2="463.41" y2="217.27" stroke="#000" stroke-width="0.9"/>
<line x1="499.43" y1="229.31" x2="498.07" y2="229.93" stroke="#000" stroke-width="0.9"/>
<line x1="536.76" y1="242.91" x2="535.42" y2="243.58" stroke="#000" stroke-width="0.9"/>
<text transform="matrix(0.8850 -0.4656 0.9396 0.3423 406.97 203.26)" font-size="7.4" text-anchor="middle" y="2.52" class="t">1.10</text>
<text transform="matrix(0.8850 -0.4656 0.9396 0.3423 438.20 214.85)" font-size="7.4" text-anchor="middle" y="2.52" class="t">1.15</text>
<text transform="matrix(0.8850 -0.4656 0.9396 0.3423 471.73 227.31)" font-size="7.4" text-anchor="middle" y="2.52" class="t">1.20</text>
<text transform="matrix(0.8850 -0.4656 0.9396 0.3423 507.82 240.73)" font-size="7.4" text-anchor="middle" y="2.52" class="t">1.25</text>
<text transform="matrix(0.8850 -0.4656 0.9396 0.3423 546.79 255.23)" font-size="7.4" text-anchor="middle" y="2.52" class="t">1.30</text>
<line x1="556.52" y1="250.11" x2="558.97" y2="251.00" stroke="#000" stroke-width="0.9"/>
<line x1="581.91" y1="236.75" x2="584.37" y2="237.60" stroke="#000" stroke-width="0.9"/>
<line x1="605.52" y1="224.33" x2="607.99" y2="225.13" stroke="#000" stroke-width="0.9"/>
<line x1="627.53" y1="212.76" x2="630.01" y2="213.52" stroke="#000" stroke-width="0.9"/>
<line x1="648.09" y1="201.94" x2="650.59" y2="202.66" stroke="#000" stroke-width="0.9"/>
<line x1="667.35" y1="191.81" x2="669.86" y2="192.50" stroke="#000" stroke-width="0.9"/>
<line x1="569.45" y1="243.31" x2="570.87" y2="243.81" stroke="#000" stroke-width="0.9"/>
<line x1="593.93" y1="230.43" x2="595.35" y2="230.91" stroke="#000" stroke-width="0.9"/>
<line x1="616.71" y1="218.45" x2="618.14" y2="218.90" stroke="#000" stroke-width="0.9"/>
<line x1="637.98" y1="207.26" x2="639.42" y2="207.69" stroke="#000" stroke-width="0.9"/>
<line x1="657.88" y1="196.79" x2="659.32" y2="197.20" stroke="#000" stroke-width="0.9"/>
<text transform="matrix(0.9396 0.3423 -0.8850 0.4656 563.85 252.78)" font-size="8" text-anchor="middle" y="2.72" class="t">0</text>
<text transform="matrix(0.9396 0.3423 -0.8850 0.4656 590.52 239.70)" font-size="8" text-anchor="middle" y="2.72" class="t">50</text>
<text transform="matrix(0.9396 0.3423 -0.8850 0.4656 615.41 227.54)" font-size="8" text-anchor="middle" y="2.72" class="t">100</text>
<text transform="matrix(0.9396 0.3423 -0.8850 0.4656 637.47 215.80)" font-size="8" text-anchor="middle" y="2.72" class="t">150</text>
<text transform="matrix(0.9396 0.3423 -0.8850 0.4656 658.08 204.84)" font-size="8" text-anchor="middle" y="2.72" class="t">200</text>
<text transform="matrix(0.9396 0.3423 -0.8850 0.4656 677.37 194.58)" font-size="8" text-anchor="middle" y="2.72" class="t">250</text>
<line x1="34.06" y1="491.67" x2="26.91" y2="314.22" stroke="#000" stroke-width="1.3"/>
<line x1="34.06" y1="491.67" x2="173.32" y2="542.41" stroke="#1a1a1a" stroke-width="1.05"/>
<line x1="173.32" y1="542.41" x2="284.15" y2="484.11" stroke="#1a1a1a" stroke-width="1.05"/>
<line x1="33.45" y1="476.39" x2="31.00" y2="477.27" stroke="#000" stroke-width="0.9"/>
<line x1="31.88" y1="437.48" x2="29.40" y2="438.26" stroke="#000" stroke-width="0.9"/>
<line x1="30.27" y1="397.52" x2="27.75" y2="398.18" stroke="#000" stroke-width="0.9"/>
<line x1="28.61" y1="356.44" x2="26.07" y2="356.99" stroke="#000" stroke-width="0.9"/>
<line x1="26.91" y1="314.22" x2="24.35" y2="314.65" stroke="#000" stroke-width="0.9"/>
<line x1="32.67" y1="457.07" x2="31.25" y2="457.55" stroke="#000" stroke-width="0.9"/>
<line x1="31.08" y1="417.63" x2="29.64" y2="418.05" stroke="#000" stroke-width="0.9"/>
<line x1="29.45" y1="377.12" x2="27.99" y2="377.47" stroke="#000" stroke-width="0.9"/>
<line x1="27.77" y1="335.48" x2="26.29" y2="335.76" stroke="#000" stroke-width="0.9"/>
<text transform="matrix(0.7528 -0.2707 0.0403 0.9992 22.05 478.29)" font-size="10" text-anchor="middle" y="3.40">0.05</text>
<text transform="matrix(0.7636 -0.2387 0.0403 0.9992 20.48 439.38)" font-size="10" text-anchor="middle" y="3.40">0.10</text>
<text transform="matrix(0.7734 -0.2046 0.0403 0.9992 18.87 399.42)" font-size="10" text-anchor="middle" y="3.40">0.15</text>
<text transform="matrix(0.7821 -0.1684 0.0403 0.9992 17.21 358.34)" font-size="10" text-anchor="middle" y="3.40">0.20</text>
<text transform="matrix(0.7893 -0.1301 0.0403 0.9992 15.51 316.12)" font-size="10" text-anchor="middle" y="3.40">0.25</text>
<line x1="34.06" y1="491.67" x2="31.63" y2="492.59" stroke="#000" stroke-width="0.9"/>
<line x1="76.06" y1="506.97" x2="73.66" y2="507.97" stroke="#000" stroke-width="0.9"/>
<line x1="122.26" y1="523.80" x2="119.90" y2="524.90" stroke="#000" stroke-width="0.9"/>
<line x1="173.32" y1="542.41" x2="171.02" y2="543.62" stroke="#000" stroke-width="0.9"/>
<line x1="54.57" y1="499.14" x2="53.18" y2="499.69" stroke="#000" stroke-width="0.9"/>
<line x1="98.59" y1="515.18" x2="97.22" y2="515.79" stroke="#000" stroke-width="0.9"/>
<line x1="147.14" y1="532.87" x2="145.79" y2="533.53" stroke="#000" stroke-width="0.9"/>
<text transform="matrix(0.8850 -0.4656 0.9396 0.3423 23.77 495.56)" font-size="7.4" text-anchor="middle" y="2.52" class="t">1.5</text>
<text transform="matrix(0.8850 -0.4656 0.9396 0.3423 65.91 511.21)" font-size="7.4" text-anchor="middle" y="2.52" class="t">1.75</text>
<text transform="matrix(0.8850 -0.4656 0.9396 0.3423 112.28 528.44)" font-size="7.4" text-anchor="middle" y="2.52" class="t">2.05</text>
<text transform="matrix(0.8850 -0.4656 0.9396 0.3423 163.59 547.53)" font-size="7.4" text-anchor="middle" y="2.52" class="t">2.5</text>
<line x1="173.32" y1="542.41" x2="175.77" y2="543.30" stroke="#000" stroke-width="0.9"/>
<line x1="198.71" y1="529.05" x2="201.17" y2="529.90" stroke="#000" stroke-width="0.9"/>
<line x1="222.32" y1="516.63" x2="224.79" y2="517.43" stroke="#000" stroke-width="0.9"/>
<line x1="244.33" y1="505.06" x2="246.81" y2="505.82" stroke="#000" stroke-width="0.9"/>
<line x1="264.89" y1="494.24" x2="267.39" y2="494.96" stroke="#000" stroke-width="0.9"/>
<line x1="284.15" y1="484.11" x2="286.66" y2="484.80" stroke="#000" stroke-width="0.9"/>
<line x1="186.25" y1="535.61" x2="187.67" y2="536.11" stroke="#000" stroke-width="0.9"/>
<line x1="210.73" y1="522.73" x2="212.15" y2="523.21" stroke="#000" stroke-width="0.9"/>
<line x1="233.51" y1="510.75" x2="234.94" y2="511.20" stroke="#000" stroke-width="0.9"/>
<line x1="254.78" y1="499.56" x2="256.22" y2="499.99" stroke="#000" stroke-width="0.9"/>
<line x1="274.68" y1="489.09" x2="276.12" y2="489.50" stroke="#000" stroke-width="0.9"/>
<text transform="matrix(0.9396 0.3423 -0.8850 0.4656 180.65 545.08)" font-size="8" text-anchor="middle" y="2.72" class="t">0</text>
<text transform="matrix(0.9396 0.3423 -0.8850 0.4656 207.32 532.00)" font-size="8" text-anchor="middle" y="2.72" class="t">50</text>
<text transform="matrix(0.9396 0.3423 -0.8850 0.4656 232.21 519.84)" font-size="8" text-anchor="middle" y="2.72" class="t">100</text>
<text transform="matrix(0.9396 0.3423 -0.8850 0.4656 254.27 508.10)" font-size="8" text-anchor="middle" y="2.72" class="t">150</text>
<text transform="matrix(0.9396 0.3423 -0.8850 0.4656 274.88 497.14)" font-size="8" text-anchor="middle" y="2.72" class="t">200</text>
<text transform="matrix(0.9396 0.3423 -0.8850 0.4656 294.17 486.88)" font-size="8" text-anchor="middle" y="2.72" class="t">250</text>
<line x1="417.26" y1="491.67" x2="410.11" y2="314.22" stroke="#000" stroke-width="1.3"/>
<line x1="417.26" y1="491.67" x2="556.52" y2="542.41" stroke="#1a1a1a" stroke-width="1.05"/>
<line x1="556.52" y1="542.41" x2="667.35" y2="484.11" stroke="#1a1a1a" stroke-width="1.05"/>
<line x1="416.65" y1="476.39" x2="414.20" y2="477.27" stroke="#000" stroke-width="0.9"/>
<line x1="415.08" y1="437.48" x2="412.60" y2="438.26" stroke="#000" stroke-width="0.9"/>
<line x1="413.47" y1="397.52" x2="410.95" y2="398.18" stroke="#000" stroke-width="0.9"/>
<line x1="411.81" y1="356.44" x2="409.27" y2="356.99" stroke="#000" stroke-width="0.9"/>
<line x1="410.11" y1="314.22" x2="407.55" y2="314.65" stroke="#000" stroke-width="0.9"/>
<line x1="415.87" y1="457.07" x2="414.45" y2="457.55" stroke="#000" stroke-width="0.9"/>
<line x1="414.28" y1="417.63" x2="412.84" y2="418.05" stroke="#000" stroke-width="0.9"/>
<line x1="412.65" y1="377.12" x2="411.19" y2="377.47" stroke="#000" stroke-width="0.9"/>
<line x1="410.97" y1="335.48" x2="409.49" y2="335.76" stroke="#000" stroke-width="0.9"/>
<text transform="matrix(0.7528 -0.2707 0.0403 0.9992 405.25 478.29)" font-size="10" text-anchor="middle" y="3.40">0.05</text>
<text transform="matrix(0.7636 -0.2387 0.0403 0.9992 403.68 439.38)" font-size="10" text-anchor="middle" y="3.40">0.10</text>
<text transform="matrix(0.7734 -0.2046 0.0403 0.9992 402.07 399.42)" font-size="10" text-anchor="middle" y="3.40">0.15</text>
<text transform="matrix(0.7821 -0.1684 0.0403 0.9992 400.41 358.34)" font-size="10" text-anchor="middle" y="3.40">0.20</text>
<text transform="matrix(0.7893 -0.1301 0.0403 0.9992 398.71 316.12)" font-size="10" text-anchor="middle" y="3.40">0.25</text>
<line x1="417.26" y1="491.67" x2="414.83" y2="492.59" stroke="#000" stroke-width="0.9"/>
<line x1="459.26" y1="506.97" x2="456.86" y2="507.97" stroke="#000" stroke-width="0.9"/>
<line x1="505.46" y1="523.80" x2="503.10" y2="524.90" stroke="#000" stroke-width="0.9"/>
<line x1="556.52" y1="542.41" x2="554.22" y2="543.62" stroke="#000" stroke-width="0.9"/>
<line x1="437.77" y1="499.14" x2="436.38" y2="499.69" stroke="#000" stroke-width="0.9"/>
<line x1="481.79" y1="515.18" x2="480.42" y2="515.79" stroke="#000" stroke-width="0.9"/>
<line x1="530.34" y1="532.87" x2="528.99" y2="533.53" stroke="#000" stroke-width="0.9"/>
<text transform="matrix(0.8850 -0.4656 0.9396 0.3423 406.97 495.56)" font-size="7.4" text-anchor="middle" y="2.52" class="t">1.5</text>
<text transform="matrix(0.8850 -0.4656 0.9396 0.3423 449.11 511.21)" font-size="7.4" text-anchor="middle" y="2.52" class="t">1.75</text>
<text transform="matrix(0.8850 -0.4656 0.9396 0.3423 495.48 528.44)" font-size="7.4" text-anchor="middle" y="2.52" class="t">2.05</text>
<text transform="matrix(0.8850 -0.4656 0.9396 0.3423 546.79 547.53)" font-size="7.4" text-anchor="middle" y="2.52" class="t">2.5</text>
<line x1="556.52" y1="542.41" x2="558.97" y2="543.30" stroke="#000" stroke-width="0.9"/>
<line x1="581.91" y1="529.05" x2="584.37" y2="529.90" stroke="#000" stroke-width="0.9"/>
<line x1="605.52" y1="516.63" x2="607.99" y2="517.43" stroke="#000" stroke-width="0.9"/>
<line x1="627.53" y1="505.06" x2="630.01" y2="505.82" stroke="#000" stroke-width="0.9"/>
<line x1="648.09" y1="494.24" x2="650.59" y2="494.96" stroke="#000" stroke-width="0.9"/>
<line x1="667.35" y1="484.11" x2="669.86" y2="484.80" stroke="#000" stroke-width="0.9"/>
<line x1="569.45" y1="535.61" x2="570.87" y2="536.11" stroke="#000" stroke-width="0.9"/>
<line x1="593.93" y1="522.73" x2="595.35" y2="523.21" stroke="#000" stroke-width="0.9"/>
<line x1="616.71" y1="510.75" x2="618.14" y2="511.20" stroke="#000" stroke-width="0.9"/>
<line x1="637.98" y1="499.56" x2="639.42" y2="499.99" stroke="#000" stroke-width="0.9"/>
<line x1="657.88" y1="489.09" x2="659.32" y2="489.50" stroke="#000" stroke-width="0.9"/>
<text transform="matrix(0.9396 0.3423 -0.8850 0.4656 563.85 545.08)" font-size="8" text-anchor="middle" y="2.72" class="t">0</text>
<text transform="matrix(0.9396 0.3423 -0.8850 0.4656 590.52 532.00)" font-size="8" text-anchor="middle" y="2.72" class="t">50</text>
<text transform="matrix(0.9396 0.3423 -0.8850 0.4656 615.41 519.84)" font-size="8" text-anchor="middle" y="2.72" class="t">100</text>
<text transform="matrix(0.9396 0.3423 -0.8850 0.4656 637.47 508.10)" font-size="8" text-anchor="middle" y="2.72" class="t">150</text>
<text transform="matrix(0.9396 0.3423 -0.8850 0.4656 658.08 497.14)" font-size="8" text-anchor="middle" y="2.72" class="t">200</text>
<text transform="matrix(0.9396 0.3423 -0.8850 0.4656 677.37 486.88)" font-size="8" text-anchor="middle" y="2.72" class="t">250</text>
<polyline points="116.9,107.9 147.3,121.7 160.5,147.1 181.9,158.1 236.75,165.75" fill="none" stroke="#ff5656" stroke-width="0.85"/>
<polyline points="107.8,82.5 129.1,118.9 139.3,137.2 165.8,155.9 195.6,166.7" fill="none" stroke="#4a4aff" stroke-width="0.85"/>
<polyline points="111.56,53.47 128.3,91.5 135.6,101.9 160.6,112.7 177,128.4" fill="none" stroke="#ff5cff" stroke-width="0.85"/>
<circle cx="116.9" cy="107.9" r="2.9" fill="url(#gr)"/>
<circle cx="147.3" cy="121.7" r="2.9" fill="url(#gr)"/>
<circle cx="160.5" cy="147.1" r="2.9" fill="url(#gr)"/>
<circle cx="181.9" cy="158.1" r="2.9" fill="url(#gr)"/>
<circle cx="236.75" cy="165.75" r="2.9" fill="url(#gr)"/>
<circle cx="107.8" cy="82.5" r="2.9" fill="url(#gb)"/>
<circle cx="129.1" cy="118.9" r="2.9" fill="url(#gb)"/>
<circle cx="139.3" cy="137.2" r="2.9" fill="url(#gb)"/>
<circle cx="165.8" cy="155.9" r="2.9" fill="url(#gb)"/>
<circle cx="195.6" cy="166.7" r="2.9" fill="url(#gb)"/>
<circle cx="111.56" cy="53.47" r="2.9" fill="url(#gm)"/>
<circle cx="128.3" cy="91.5" r="2.9" fill="url(#gm)"/>
<circle cx="135.6" cy="101.9" r="2.9" fill="url(#gm)"/>
<circle cx="160.6" cy="112.7" r="2.9" fill="url(#gm)"/>
<circle cx="177" cy="128.4" r="2.9" fill="url(#gm)"/>
<polyline points="507.5,102 547.5,117 576.25,144.5 591.25,153.25 643.75,159" fill="none" stroke="#ff5656" stroke-width="0.85"/>
<polyline points="498.75,79.5 529.25,114.5 555.5,135.75 575,151.5 603.5,161" fill="none" stroke="#4a4aff" stroke-width="0.85"/>
<polyline points="502,52.5 528.5,89.25 551.75,102.5 570,110.75 585.5,126.25" fill="none" stroke="#ff5cff" stroke-width="0.85"/>
<circle cx="507.5" cy="102" r="2.9" fill="url(#gr)"/>
<circle cx="547.5" cy="117" r="2.9" fill="url(#gr)"/>
<circle cx="576.25" cy="144.5" r="2.9" fill="url(#gr)"/>
<circle cx="591.25" cy="153.25" r="2.9" fill="url(#gr)"/>
<circle cx="643.75" cy="159" r="2.9" fill="url(#gr)"/>
<circle cx="498.75" cy="79.5" r="2.9" fill="url(#gb)"/>
<circle cx="529.25" cy="114.5" r="2.9" fill="url(#gb)"/>
<circle cx="555.5" cy="135.75" r="2.9" fill="url(#gb)"/>
<circle cx="575" cy="151.5" r="2.9" fill="url(#gb)"/>
<circle cx="603.5" cy="161" r="2.9" fill="url(#gb)"/>
<circle cx="502" cy="52.5" r="2.9" fill="url(#gm)"/>
<circle cx="528.5" cy="89.25" r="2.9" fill="url(#gm)"/>
<circle cx="551.75" cy="102.5" r="2.9" fill="url(#gm)"/>
<circle cx="570" cy="110.75" r="2.9" fill="url(#gm)"/>
<circle cx="585.5" cy="126.25" r="2.9" fill="url(#gm)"/>
<polyline points="110,391 132.5,402 144,424 202.5,444.5 255,450.5" fill="none" stroke="#ff5656" stroke-width="0.85"/>
<polyline points="100.5,369 114,399.5 122,416 186,442 214,452" fill="none" stroke="#4a4aff" stroke-width="0.85"/>
<polyline points="104,342 112.5,374.5 118,384 181.5,402 196,417" fill="none" stroke="#ff5cff" stroke-width="0.85"/>
<circle cx="110" cy="391" r="2.9" fill="url(#gr)"/>
<circle cx="132.5" cy="402" r="2.9" fill="url(#gr)"/>
<circle cx="144" cy="424" r="2.9" fill="url(#gr)"/>
<circle cx="202.5" cy="444.5" r="2.9" fill="url(#gr)"/>
<circle cx="255" cy="450.5" r="2.9" fill="url(#gr)"/>
<circle cx="100.5" cy="369" r="2.9" fill="url(#gb)"/>
<circle cx="114" cy="399.5" r="2.9" fill="url(#gb)"/>
<circle cx="122" cy="416" r="2.9" fill="url(#gb)"/>
<circle cx="186" cy="442" r="2.9" fill="url(#gb)"/>
<circle cx="214" cy="452" r="2.9" fill="url(#gb)"/>
<circle cx="104" cy="342" r="2.9" fill="url(#gm)"/>
<circle cx="112.5" cy="374.5" r="2.9" fill="url(#gm)"/>
<circle cx="118" cy="384" r="2.9" fill="url(#gm)"/>
<circle cx="181.5" cy="402" r="2.9" fill="url(#gm)"/>
<circle cx="196" cy="417" r="2.9" fill="url(#gm)"/>
<polyline points="506,394.5 532,405.5 550.5,430 576,441.5 618.5,444.5" fill="none" stroke="#ff5656" stroke-width="0.85"/>
<polyline points="497,371 513.5,403.5 529,422 560,440 577,446.5" fill="none" stroke="#4a4aff" stroke-width="0.85"/>
<polyline points="501,344.5 512.5,378 526,389 555,399.5 558,412" fill="none" stroke="#ff5cff" stroke-width="0.85"/>
<circle cx="506" cy="394.5" r="2.9" fill="url(#gr)"/>
<circle cx="532" cy="405.5" r="2.9" fill="url(#gr)"/>
<circle cx="550.5" cy="430" r="2.9" fill="url(#gr)"/>
<circle cx="576" cy="441.5" r="2.9" fill="url(#gr)"/>
<circle cx="618.5" cy="444.5" r="2.9" fill="url(#gr)"/>
<circle cx="497" cy="371" r="2.9" fill="url(#gb)"/>
<circle cx="513.5" cy="403.5" r="2.9" fill="url(#gb)"/>
<circle cx="529" cy="422" r="2.9" fill="url(#gb)"/>
<circle cx="560" cy="440" r="2.9" fill="url(#gb)"/>
<circle cx="577" cy="446.5" r="2.9" fill="url(#gb)"/>
<circle cx="501" cy="344.5" r="2.9" fill="url(#gm)"/>
<circle cx="512.5" cy="378" r="2.9" fill="url(#gm)"/>
<circle cx="526" cy="389" r="2.9" fill="url(#gm)"/>
<circle cx="555" cy="399.5" r="2.9" fill="url(#gm)"/>
<circle cx="558" cy="412" r="2.9" fill="url(#gm)"/>
<text x="3.2" y="15" font-size="14" font-weight="bold" fill="#000" class="b">a</text>
<text transform="translate(1.00 61.50) rotate(87.75) scale(1 0.86)" font-size="9.9">Maximum damping ratio <tspan font-style="italic">λ</tspan><tspan font-size="6" dy="1.5">max</tspan></text>
<line x1="217.90" y1="29.30" x2="242.70" y2="29.30" stroke="#ff4848" stroke-width="0.9"/>
<circle cx="230.4" cy="29.30" r="3.5" fill="url(#lr)"/>
<text x="245.60" y="32.60" font-size="11" class="b"><tspan font-style="italic">w</tspan>=16%</text>
<line x1="217.90" y1="42.65" x2="242.70" y2="42.65" stroke="#5858ff" stroke-width="0.9"/>
<circle cx="230.4" cy="42.65" r="3.5" fill="url(#lb)"/>
<text x="245.60" y="45.95" font-size="11" class="b"><tspan font-style="italic">w</tspan>=18%</text>
<line x1="217.90" y1="56.00" x2="242.70" y2="56.00" stroke="#ff58ff" stroke-width="0.9"/>
<circle cx="230.4" cy="56.00" r="3.5" fill="url(#lm)"/>
<text x="245.60" y="59.30" font-size="11" class="b"><tspan font-style="italic">w</tspan>=20%</text>
<line x1="151.75" y1="228.25" x2="82.85" y2="202.72" stroke="#8000ff" stroke-width="1.8"/><path d="M75.50,200.00 L83.40,206.87 L82.85,202.72 L85.98,199.94 Z" fill="#8000ff"/>
<line x1="256.40" y1="193.40" x2="190.12" y2="228.62" stroke="#8000ff" stroke-width="1.8"/><path d="M183.20,232.30 L193.59,230.97 L190.12,228.62 L190.12,224.43 Z" fill="#8000ff"/>
<text transform="matrix(0.9396 0.3423 -0.8238 0.3625 77.50 234.00)" font-size="8.2" text-anchor="middle" y="2.79" class="t" stroke="#111" stroke-width="0.12">Shape coefficient <tspan font-style="italic">η</tspan></text>
<text transform="matrix(0.8850 -0.4656 0.8585 0.2702 257.40 227.00)" font-size="7.4" text-anchor="middle" y="2.52" class="t" stroke="#111" stroke-width="0.12">Matric suction <tspan font-style="italic">ψ</tspan><tspan font-size="5" dy="1">0</tspan><tspan dy="-1">(kPa)</tspan></text>
<text x="379.2" y="15" font-size="14" font-weight="bold" fill="#000" class="b">b</text>
<text transform="translate(384.20 61.50) rotate(87.75) scale(1 0.86)" font-size="9.9">Maximum damping ratio <tspan font-style="italic">λ</tspan><tspan font-size="6" dy="1.5">max</tspan></text>
<line x1="607.50" y1="25.50" x2="632.30" y2="25.50" stroke="#ff4848" stroke-width="0.9"/>
<circle cx="620" cy="25.50" r="3.5" fill="url(#lr)"/>
<text x="635.20" y="28.80" font-size="11" class="b"><tspan font-style="italic">w</tspan>=16%</text>
<line x1="607.50" y1="38.85" x2="632.30" y2="38.85" stroke="#5858ff" stroke-width="0.9"/>
<circle cx="620" cy="38.85" r="3.5" fill="url(#lb)"/>
<text x="635.20" y="42.15" font-size="11" class="b"><tspan font-style="italic">w</tspan>=18%</text>
<line x1="607.50" y1="52.20" x2="632.30" y2="52.20" stroke="#ff58ff" stroke-width="0.9"/>
<circle cx="620" cy="52.20" r="3.5" fill="url(#lm)"/>
<text x="635.20" y="55.50" font-size="11" class="b"><tspan font-style="italic">w</tspan>=20%</text>
<line x1="543.50" y1="229.50" x2="459.36" y2="198.70" stroke="#8000ff" stroke-width="1.8"/><path d="M452.00,196.00 L459.93,202.84 L459.36,198.70 L462.47,195.89 Z" fill="#8000ff"/>
<line x1="627.50" y1="192.75" x2="568.62" y2="225.21" stroke="#8000ff" stroke-width="1.8"/><path d="M561.75,229.00 L572.12,227.51 L568.62,225.21 L568.55,221.03 Z" fill="#8000ff"/>
<text transform="matrix(0.9396 0.3423 -0.8238 0.3625 460.70 234.00)" font-size="8.2" text-anchor="middle" y="2.79" class="t" stroke="#111" stroke-width="0.12">Fractal dimension <tspan font-style="italic">D</tspan><tspan font-size="5" dy="1">f</tspan></text>
<text transform="matrix(0.8850 -0.4656 0.8585 0.2702 640.60 227.00)" font-size="7.4" text-anchor="middle" y="2.52" class="t" stroke="#111" stroke-width="0.12">Matric suction <tspan font-style="italic">ψ</tspan><tspan font-size="5" dy="1">0</tspan><tspan dy="-1">(kPa)</tspan></text>
<text x="3" y="302" font-size="14" font-weight="bold" fill="#000" class="b">c</text>
<text transform="translate(1.00 353.80) rotate(87.75) scale(1 0.86)" font-size="9.9">Maximum damping ratio <tspan font-style="italic">λ</tspan><tspan font-size="6" dy="1.5">max</tspan></text>
<line x1="222.40" y1="320.50" x2="247.20" y2="320.50" stroke="#ff4848" stroke-width="0.9"/>
<circle cx="234.9" cy="320.50" r="3.5" fill="url(#lr)"/>
<text x="250.10" y="323.80" font-size="11" class="b"><tspan font-style="italic">w</tspan>=16%</text>
<line x1="222.40" y1="333.85" x2="247.20" y2="333.85" stroke="#5858ff" stroke-width="0.9"/>
<circle cx="234.9" cy="333.85" r="3.5" fill="url(#lb)"/>
<text x="250.10" y="337.15" font-size="11" class="b"><tspan font-style="italic">w</tspan>=18%</text>
<line x1="222.40" y1="347.20" x2="247.20" y2="347.20" stroke="#ff58ff" stroke-width="0.9"/>
<circle cx="234.9" cy="347.20" r="3.5" fill="url(#lm)"/>
<text x="250.10" y="350.50" font-size="11" class="b"><tspan font-style="italic">w</tspan>=20%</text>
<line x1="149.50" y1="520.25" x2="73.60" y2="492.22" stroke="#8000ff" stroke-width="1.8"/><path d="M66.25,489.50 L74.16,496.37 L73.60,492.22 L76.72,489.42 Z" fill="#8000ff"/>
<line x1="245.50" y1="484.50" x2="181.70" y2="517.87" stroke="#8000ff" stroke-width="1.8"/><path d="M174.75,521.50 L185.15,520.24 L181.70,517.87 L181.72,513.68 Z" fill="#8000ff"/>
<text transform="matrix(0.9396 0.3423 -0.8238 0.3625 83.00 526.40)" font-size="8.2" text-anchor="middle" y="2.79" class="t" stroke="#111" stroke-width="0.12">Pore porosity distribution fractal dimension <tspan font-style="italic">D</tspan><tspan font-size="5" dy="1">p</tspan></text>
<text transform="matrix(0.8850 -0.4656 0.8585 0.2702 257.40 519.30)" font-size="7.4" text-anchor="middle" y="2.52" class="t" stroke="#111" stroke-width="0.12">Matric suction <tspan font-style="italic">ψ</tspan><tspan font-size="5" dy="1">0</tspan><tspan dy="-1">(kPa)</tspan></text>
<text x="379.2" y="302" font-size="14" font-weight="bold" fill="#000" class="b">d</text>
<text transform="translate(384.20 353.80) rotate(87.75) scale(1 0.86)" font-size="9.9">Maximum damping ratio <tspan font-style="italic">λ</tspan><tspan font-size="6" dy="1.5">max</tspan></text>
<line x1="607.50" y1="319.75" x2="632.30" y2="319.75" stroke="#ff4848" stroke-width="0.9"/>
<circle cx="620" cy="319.75" r="3.5" fill="url(#lr)"/>
<text x="635.20" y="323.05" font-size="11" class="b"><tspan font-style="italic">w</tspan>=16%</text>
<line x1="607.50" y1="333.10" x2="632.30" y2="333.10" stroke="#5858ff" stroke-width="0.9"/>
<circle cx="620" cy="333.10" r="3.5" fill="url(#lb)"/>
<text x="635.20" y="336.40" font-size="11" class="b"><tspan font-style="italic">w</tspan>=18%</text>
<line x1="607.50" y1="346.45" x2="632.30" y2="346.45" stroke="#ff58ff" stroke-width="0.9"/>
<circle cx="620" cy="346.45" r="3.5" fill="url(#lm)"/>
<text x="635.20" y="349.75" font-size="11" class="b"><tspan font-style="italic">w</tspan>=20%</text>
<line x1="533.00" y1="518.25" x2="459.35" y2="490.97" stroke="#8000ff" stroke-width="1.8"/><path d="M452.00,488.25 L459.90,495.12 L459.35,490.97 L462.48,488.18 Z" fill="#8000ff"/>
<line x1="624.25" y1="482.00" x2="553.76" y2="517.24" stroke="#8000ff" stroke-width="1.8"/><path d="M546.75,520.75 L557.17,519.68 L553.76,517.24 L553.86,513.06 Z" fill="#8000ff"/>
<text transform="matrix(0.9396 0.3423 -0.8238 0.3625 460.70 526.30)" font-size="8.2" text-anchor="middle" y="2.79" class="t" stroke="#111" stroke-width="0.12">Area probability distribution index <tspan font-style="italic">λ</tspan></text>
<text transform="matrix(0.8850 -0.4656 0.8585 0.2702 640.60 519.30)" font-size="7.4" text-anchor="middle" y="2.52" class="t" stroke="#111" stroke-width="0.12">Matric suction <tspan font-style="italic">ψ</tspan><tspan font-size="5" dy="1">0</tspan><tspan dy="-1">(kPa)</tspan></text>
</svg></body></html>
